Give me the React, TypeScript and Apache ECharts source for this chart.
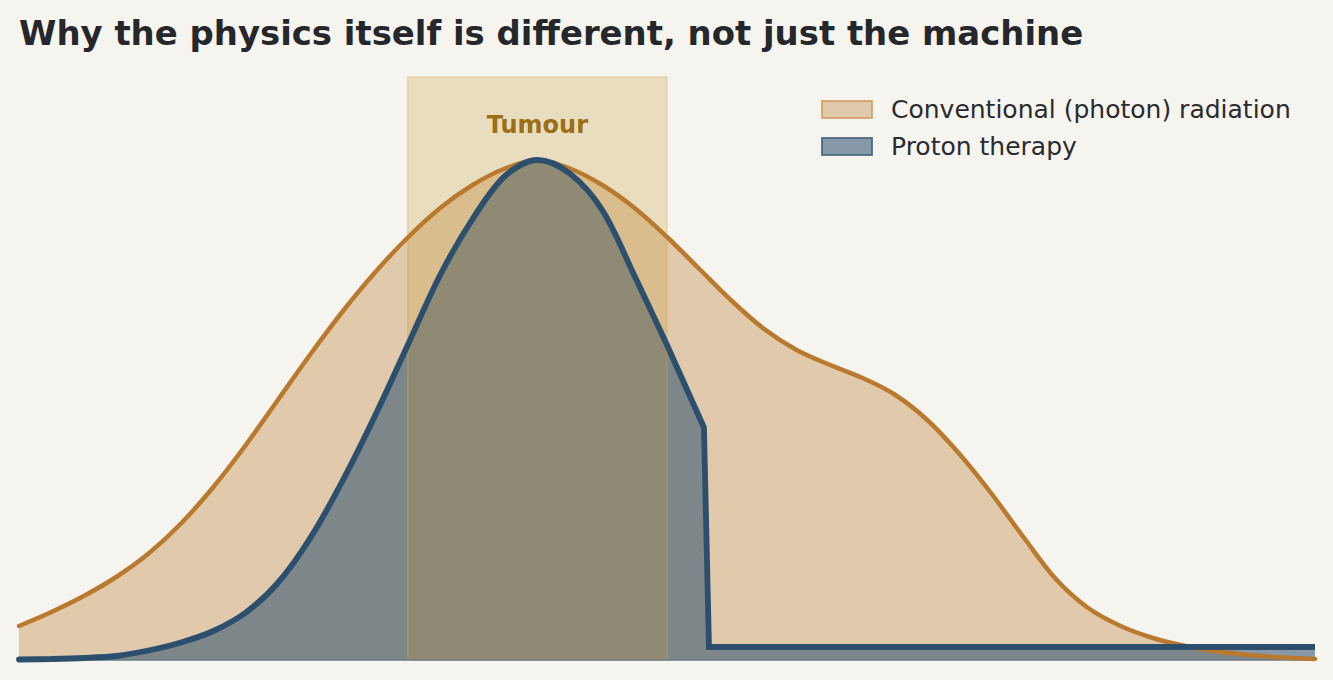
import { useEffect, useRef } from "react";
import * as echarts from "echarts";

// x positions (depth, arbitrary units) shared by both dose curves
const depth = [
  0, 0.25, 0.5, 0.75, 1, 1.25, 1.5, 1.75, 2, 2.25, 2.5, 2.75, 3, 3.25, 3.5, 3.75, 4,
  4.25, 4.5, 4.75, 5, 5.25, 5.5, 5.75, 6, 6.25, 6.5, 6.75, 7, 7.25, 7.5, 7.75, 8,
  8.25, 8.5, 8.75, 9, 9.25, 9.5, 9.75, 10,
];

// conventional (photon) dose
const photonDose = [
  0.068, 0.096, 0.128, 0.166, 0.213, 0.273, 0.346, 0.43, 0.521, 0.612, 0.698, 0.776,
  0.845, 0.904, 0.95, 0.983, 1.0, 0.983, 0.95, 0.904, 0.846, 0.782, 0.718, 0.662,
  0.62, 0.591, 0.565, 0.532, 0.482, 0.414, 0.334, 0.246, 0.162, 0.104, 0.068, 0.044,
  0.028, 0.017, 0.01, 0.005, 0.002,
];

// proton dose up to the tumour's far edge (x = 0 .. 5)
const protonDose = [
  0.001, 0.002, 0.004, 0.008, 0.019, 0.035, 0.058, 0.095, 0.155, 0.245, 0.36, 0.49,
  0.63, 0.77, 0.882, 0.968, 1.0, 0.973, 0.9, 0.768, 0.63,
];

// the sharp fall-off past the tumour, then a small flat tail
const protonTailX = [5, 5.285, 5.324, 10];
const protonTailDose = [0.63, 0.465, 0.026, 0.026];

const tumourStart = 3;
const tumourEnd = 5;
const yMax = 1.166;

const title = "Why the physics itself is different, not just the machine";
const legendNames = ["Conventional (photon) radiation", "Proton therapy"];

const FONT = "DejaVu Sans";
const BG = "#f5f4ef";
const PHOTON = "#b97a2f";
const PROTON = "#2b4f6d";
const SMOOTH = 0.33;

function App() {
  const chartRef = useRef<HTMLDivElement>(null);

  useEffect(() => {
    if (!chartRef.current) return;
    const chart = echarts.init(chartRef.current, null, { renderer: "svg" });

    const photonData = depth.map((x, i) => [x, photonDose[i]]);
    const protonData = protonDose.map((v, i) => [depth[i], v]);
    const protonTail = protonTailX.map((x, i) => [x, protonTailDose[i]]);

    const base = {
      type: "line" as const,
      showSymbol: false,
      symbol: "none",
      silent: true,
    };

    chart.setOption({
      animation: false,
      backgroundColor: BG,
      title: {
        text: title,
        left: 14,
        top: 11,
        textStyle: {
          fontFamily: FONT,
          fontSize: 33.9,
          fontWeight: "bold",
          color: "#25272b",
        },
      },
      grid: { left: 19, right: 18, top: 77, bottom: 20 },
      xAxis: {
        type: "value",
        min: 0,
        max: 10,
        z: 5,
        axisLine: { show: true, lineStyle: { color: "#6a7a86", width: 1.5 } },
        axisTick: { show: false },
        axisLabel: { show: false },
        splitLine: { show: false },
      },
      yAxis: {
        type: "value",
        min: 0,
        max: yMax,
        axisLine: { show: false },
        axisTick: { show: false },
        axisLabel: { show: false },
        splitLine: { show: false },
      },
      series: [
        // fills first, tumour band over them, outlines on top
        {
          ...base,
          name: legendNames[0],
          data: photonData,
          smooth: SMOOTH,
          z: 2,
          lineStyle: { width: 0, opacity: 0 },
          areaStyle: { color: "rgba(185,122,47,0.35)", opacity: 1 },
          markArea: {
            silent: true,
            z: 4,
            itemStyle: {
              color: "rgba(201,150,50,0.25)",
              borderColor: "rgba(214,170,80,0.35)",
              borderWidth: 1.5,
            },
            label: {
              show: true,
              position: "insideTop",
              distance: 37,
              fontFamily: FONT,
              fontSize: 24,
              fontWeight: "bold",
              color: "#9a6f15",
            },
            data: [[{ name: "Tumour", xAxis: tumourStart }, { xAxis: tumourEnd }]],
          },
        },
        {
          ...base,
          name: legendNames[1],
          data: protonData,
          smooth: SMOOTH,
          z: 3,
          lineStyle: { width: 0, opacity: 0 },
          areaStyle: { color: "rgba(43,79,109,0.55)", opacity: 1 },
        },
        {
          ...base,
          name: legendNames[1],
          data: protonTail,
          z: 3,
          lineStyle: { width: 0, opacity: 0 },
          areaStyle: { color: "rgba(43,79,109,0.55)", opacity: 1 },
        },
        {
          ...base,
          name: legendNames[0],
          data: photonData,
          smooth: SMOOTH,
          z: 5,
          lineStyle: { color: PHOTON, width: 4.5, cap: "round" },
        },
        {
          ...base,
          name: legendNames[1],
          data: protonData,
          smooth: SMOOTH,
          z: 6,
          lineStyle: { color: PROTON, width: 5.8, cap: "round" },
        },
        {
          ...base,
          name: legendNames[1],
          data: protonTail,
          z: 6,
          lineStyle: { color: PROTON, width: 5.8, join: "miter", cap: "butt" },
        },
      ],
      graphic: [
        {
          type: "rect",
          left: 821,
          top: 100,
          shape: { width: 50, height: 17 },
          style: { fill: "rgba(185,122,47,0.35)", stroke: "rgba(205,150,90,0.75)", lineWidth: 2 },
        },
        {
          type: "text",
          x: 891,
          y: 109.6,
          style: {
            text: legendNames[0],
            fontFamily: FONT,
            fontSize: 25,
            fill: "#2a2b2e",
            verticalAlign: "middle",
          },
        },
        {
          type: "rect",
          left: 821,
          top: 137,
          shape: { width: 50, height: 17 },
          style: { fill: "rgba(43,79,109,0.55)", stroke: "rgba(70,100,125,0.85)", lineWidth: 2 },
        },
        {
          type: "text",
          x: 891,
          y: 146.3,
          style: {
            text: legendNames[1],
            fontFamily: FONT,
            fontSize: 25,
            fill: "#2a2b2e",
            verticalAlign: "middle",
          },
        },
      ],
    });

    return () => {
      chart.dispose();
    };
  }, []);

  return (
    <div
      ref={chartRef}
      style={{
        position: "fixed",
        top: 0,
        left: 0,
        width: 1333,
        height: 680,
      }}
    />
  );
}

export default App;
